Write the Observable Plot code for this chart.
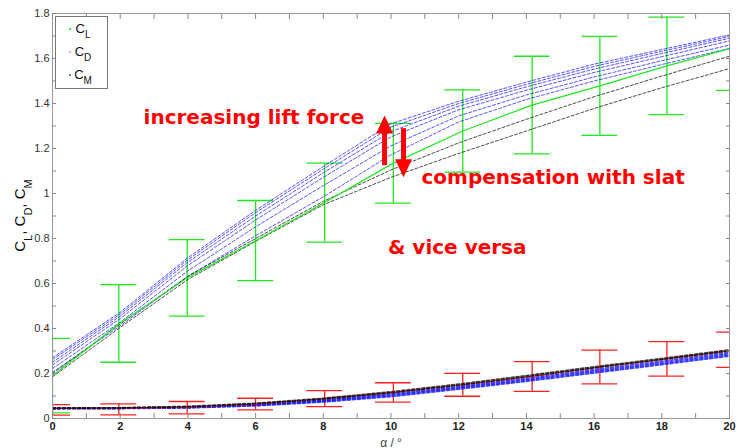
<!DOCTYPE html>
<html><head><meta charset="utf-8">
<script src="https://cdn.jsdelivr.net/npm/d3@7"></script>
<script src="https://cdn.jsdelivr.net/npm/@observablehq/plot@0.6"></script>
<style>body{margin:0;background:#fff}#chart{width:739px;height:448px}</style>
</head><body><div id="chart"></div>
<script>
// ---------- data ----------
const alpha = [0, 2, 4, 6, 8, 10, 12, 14, 16, 18, 20];
const alphaMeas = [0, 1.96, 3.98, 6.0, 8.04, 10.07, 12.12, 14.17, 16.17, 18.15, 20.15];

const clMean = [0.19, 0.42, 0.625, 0.79, 0.96, 1.135, 1.278, 1.393, 1.478, 1.567, 1.649];
const clLo   = [0.025, 0.25, 0.455, 0.613, 0.784, 0.957, 1.095, 1.176, 1.258, 1.351, 1.458];
const clHi   = [0.356, 0.595, 0.795, 0.969, 1.135, 1.312, 1.461, 1.61, 1.698, 1.784, 1.84];

const cdMean = [0.045, 0.046, 0.050, 0.064, 0.088, 0.116, 0.150, 0.187, 0.229, 0.265, 0.305];
const cdLo   = [0.015, 0.016, 0.021, 0.0385, 0.053, 0.073, 0.099, 0.121, 0.154, 0.188, 0.227];
const cdHi   = [0.062, 0.065, 0.0755, 0.09, 0.124, 0.159, 0.201, 0.253, 0.304, 0.342, 0.384];

const clBlue1 = [0.270, 0.472, 0.715, 0.925, 1.120, 1.310, 1.410, 1.495, 1.575, 1.640, 1.705];
const clBlue2 = [0.262, 0.464, 0.706, 0.915, 1.108, 1.295, 1.400, 1.485, 1.565, 1.632, 1.698];
const clBlue3 = [0.250, 0.455, 0.695, 0.900, 1.092, 1.275, 1.388, 1.474, 1.553, 1.622, 1.690];
const clBlue4 = [0.238, 0.444, 0.680, 0.882, 1.072, 1.252, 1.372, 1.459, 1.538, 1.608, 1.678];
const clBlue5 = [0.222, 0.428, 0.656, 0.852, 1.035, 1.212, 1.345, 1.438, 1.518, 1.590, 1.660];
const clBlue6 = [0.205, 0.412, 0.632, 0.812, 0.985, 1.172, 1.318, 1.418, 1.500, 1.573, 1.645];
const clBlack1 = [0.200, 0.420, 0.632, 0.800, 0.965, 1.105, 1.225, 1.330, 1.430, 1.522, 1.610];
const clBlack2 = [0.185, 0.405, 0.618, 0.787, 0.950, 1.072, 1.178, 1.278, 1.378, 1.470, 1.555];

const cdBlue1 = [0.045, 0.046, 0.051, 0.063, 0.082, 0.109, 0.142, 0.179, 0.218, 0.255, 0.294];
const cdBlue2 = [0.044, 0.045, 0.049, 0.060, 0.079, 0.105, 0.138, 0.174, 0.212, 0.249, 0.288];
const cdBlue3 = [0.044, 0.045, 0.048, 0.058, 0.076, 0.101, 0.134, 0.169, 0.207, 0.244, 0.282];
const cdBlue4 = [0.043, 0.044, 0.047, 0.056, 0.073, 0.097, 0.130, 0.165, 0.202, 0.239, 0.277];
const cdBlack1 = [0.047, 0.048, 0.054, 0.068, 0.090, 0.119, 0.153, 0.191, 0.230, 0.267, 0.305];
const cdBlack2 = [0.045, 0.047, 0.052, 0.065, 0.086, 0.114, 0.148, 0.186, 0.225, 0.262, 0.300];

const xTicks = [0, 2, 4, 6, 8, 10, 12, 14, 16, 18, 20];
const xTickLabels = ["0", "2", "4", "6", "8", "10", "12", "14", "16", "18", "20"];
const xMinorTicks = [1, 3, 5, 7, 9, 11, 13, 15, 17, 19];
const yTicks = [0, 0.2, 0.4, 0.6, 0.8, 1, 1.2, 1.4, 1.6, 1.8];
const yTickLabels = ["0", "0.2", "0.4", "0.6", "0.8", "1", "1.2", "1.4", "1.6", "1.8"];
const yMinorTicks = [0.1, 0.3, 0.5, 0.7, 0.9, 1.1, 1.3, 1.5, 1.7];

const xLabel = "\u03b1 / \u00b0";
const legendLabels = ["L", "D", "M"];

const notes = ["increasing lift force", "compensation with slat", "& vice versa"];
const noteX = [2.69, 10.9, 9.91];
const noteY = [1.311, 1.044, 0.729];

const arrowX = [9.81, 10.37];
const arrowFrom = [1.124, 1.288];
const arrowTo = [1.293, 1.126];
const arrowDir = [0, 180];

// ---------- styles ----------
const GREEN = "#22e622", RED = "#ff1f1f", BLUE = "#1a1aff", BLACK = "#111";
const capHalf = 0.53;

// ---------- build tables ----------
const toRows = (xs, ys, name) => xs.map((x, i) => ({x, y: ys[i], s: name}));
const clBars = alphaMeas.map((x, i) => ({x, lo: clLo[i], hi: clHi[i]}));
const cdBars = alphaMeas.map((x, i) => ({x, lo: cdLo[i], hi: cdHi[i]}));
const clBlueRows = [clBlue1, clBlue2, clBlue3, clBlue4, clBlue5, clBlue6].flatMap((s, k) => toRows(alpha, s, "b" + k));
const clBlackRows = [clBlack1, clBlack2].flatMap((s, k) => toRows(alpha, s, "k" + k));
const cdBlueRows = [cdBlue1, cdBlue2, cdBlue3, cdBlue4].flatMap((s, k) => toRows(alpha, s, "b" + k));
const cdBlackRows = [cdBlack1, cdBlack2].flatMap((s, k) => toRows(alpha, s, "k" + k));
const clMeanRows = toRows(alphaMeas, clMean, "m");
const cdMeanRows = toRows(alphaMeas, cdMean, "m");
const noteRows = notes.map((t, i) => ({t, x: noteX[i], y: noteY[i]}));
const arrowRows = arrowX.map((x, i) => ({x, y1: arrowFrom[i], y2: arrowTo[i], r: arrowDir[i]}));

const headSymbol = {draw(ctx) { ctx.moveTo(0, -12); ctx.lineTo(8.5, 6); ctx.lineTo(-8.5, 6); ctx.closePath(); }};

function errorbars(data, color) {
  return [
    Plot.ruleX(data, {x: "x", y1: "lo", y2: "hi", stroke: color, strokeWidth: 1.3, clip: true}),
    Plot.ruleY(data, {y: "lo", x1: d => d.x - capHalf, x2: d => d.x + capHalf, stroke: color, strokeWidth: 1.3, clip: true}),
    Plot.ruleY(data, {y: "hi", x1: d => d.x - capHalf, x2: d => d.x + capHalf, stroke: color, strokeWidth: 1.3, clip: true})
  ];
}

const plot = Plot.plot({
  width: 739, height: 448,
  marginLeft: 52, marginRight: 10, marginTop: 13, marginBottom: 30,
  x: {domain: [0, 20]},
  y: {domain: [0, 1.8]},
  style: {fontFamily: "'Liberation Sans', Arial, sans-serif", fontSize: "11px", background: "#fff", color: "#222"},
  marks: [
    ...errorbars(clBars, GREEN),
    ...errorbars(cdBars, RED),
    Plot.line(clBlueRows, {x: "x", y: "y", z: "s", stroke: BLUE, strokeOpacity: 0.75, strokeWidth: 1, strokeDasharray: "3,2", clip: true}),
    Plot.line(clBlackRows, {x: "x", y: "y", z: "s", stroke: BLACK, strokeOpacity: 0.75, strokeWidth: 1, strokeDasharray: "3,2", clip: true}),
    Plot.line(clMeanRows, {x: "x", y: "y", stroke: GREEN, strokeWidth: 1.2, clip: true}),
    Plot.line(cdBlueRows, {x: "x", y: "y", z: "s", stroke: BLUE, strokeOpacity: 0.8, strokeWidth: 1.6, strokeDasharray: "3,2", clip: true}),
    Plot.line(cdMeanRows, {x: "x", y: "y", stroke: RED, strokeWidth: 1.2, clip: true}),
    Plot.line(cdBlackRows, {x: "x", y: "y", z: "s", stroke: BLACK, strokeOpacity: 0.8, strokeWidth: 1.6, strokeDasharray: "3,2", clip: true}),
    Plot.frame({stroke: "#999"}),
    // inward ticks on all four sides
    Plot.axisX(xTicks.concat(xMinorTicks), {anchor: "bottom", tickSize: -5, tickFormat: () => "", label: null, stroke: "#888"}),
    Plot.axisX(xTicks.concat(xMinorTicks), {anchor: "top", tickSize: -5, tickFormat: () => "", label: null, stroke: "#888"}),
    Plot.axisY(yTicks.concat(yMinorTicks), {anchor: "left", tickSize: -4, tickFormat: () => "", label: null, stroke: "#888"}),
    Plot.axisY(yTicks.concat(yMinorTicks), {anchor: "right", tickSize: -4, tickFormat: () => "", label: null, stroke: "#888"}),
    // tick labels
    Plot.axisX(xTicks, {anchor: "bottom", tickSize: 0, tickPadding: 4, tickFormat: d => xTickLabels[xTicks.indexOf(d)], label: null, fontWeight: "bold", fill: "#222", fontSize: 11}),
    Plot.axisY(yTicks, {anchor: "left", tickSize: 0, tickPadding: 3, tickFormat: d => yTickLabels[yTicks.indexOf(d)], label: null, fill: "#333", fontSize: 11}),
    Plot.text([xLabel], {frameAnchor: "bottom", text: d => d, dy: 28, lineAnchor: "bottom", fontSize: 12, fill: "#444"}),
    // annotations
    Plot.ruleX(arrowRows, {x: "x", y1: "y1", y2: "y2", stroke: "#ff0000", strokeWidth: 5}),
    Plot.dot(arrowRows, {x: "x", y: "y2", symbol: headSymbol, rotate: "r", fill: "#ff0000", stroke: "none", r: 6}),
    Plot.text(noteRows, {x: "x", y: "y", text: "t", textAnchor: "start", lineAnchor: "bottom", fontFamily: "'DejaVu Sans', sans-serif", fontWeight: "bold", fontSize: 20, fill: "#ff0000"})
  ]
});

document.getElementById("chart").appendChild(plot);

// legend and y label with subscripts (real text)
const svg = d3.select(plot);
const legendColors = [GREEN, "#ff8a8a", "#555"];
const lg = svg.append("g").attr("font-family", "'Liberation Sans', Arial, sans-serif").attr("fill", "#111");
lg.append("rect").attr("x", 55.5).attr("y", 16.5).attr("width", 52).attr("height", 72).attr("fill", "#fff").attr("stroke", "#777");
legendLabels.forEach((lab, i) => {
  const cy = 29 + i * 23;
  lg.append("circle").attr("cx", 70).attr("cy", cy).attr("r", 1.1).attr("fill", legendColors[i]);
  const t = lg.append("text").attr("x", 83).attr("y", cy + 3.5).attr("font-size", 13);
  t.append("tspan").text("C");
  t.append("tspan").attr("font-size", 10).attr("dy", 5).text(lab);
});

const yl = svg.append("text")
  .attr("transform", "translate(25,215.5) rotate(-90)")
  .attr("text-anchor", "middle")
  .attr("font-family", "'Liberation Sans', Arial, sans-serif")
  .attr("font-size", 15).attr("fill", "#111");
legendLabels.forEach((lab, i) => {
  yl.append("tspan").attr("dy", i === 0 ? 0 : -7).text((i === 0 ? "" : ", ") + "C");
  yl.append("tspan").attr("font-size", 11).attr("dy", 7).text(lab);
});
</script>
</body></html>
